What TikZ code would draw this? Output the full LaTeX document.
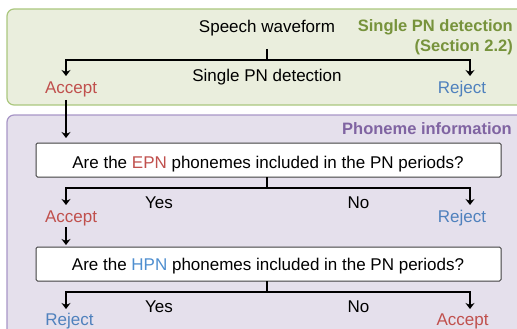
\documentclass[tikz,border=0pt]{standalone}
\usepackage{fontspec}
\setmainfont{Liberation Sans}
\usetikzlibrary{arrows.meta}
\definecolor{accred}{HTML}{C0504D}
\definecolor{rejblue}{HTML}{4F81BD}
\definecolor{hpnblue}{HTML}{4F8FD0}
\definecolor{grfill}{HTML}{EAEEDD}
\definecolor{grline}{HTML}{ABC77E}
\definecolor{grtext}{HTML}{77933C}
\definecolor{pufill}{HTML}{E5E0EC}
\definecolor{puline}{HTML}{A795C6}
\definecolor{putext}{HTML}{8064A2}
\tikzset{
  txt/.style={inner sep=0pt, anchor=base, font=\fontsize{17}{20}\selectfont},
  panel/.style={rounded corners=7pt, line width=1.2pt},
  qbox/.style={draw=black!75, fill=white, line width=1pt, rounded corners=1.5pt},
  link/.style={line width=1.8pt},
  arr/.style={link, -{Stealth[length=6pt,width=9pt,inset=2pt]}},
  ptitle/.style={inner sep=0pt, anchor=base east, font=\fontsize{16.5}{19}\selectfont\bfseries}
}
\begin{document}
\begin{tikzpicture}[x=1pt,y=-1pt]
\useasboundingbox (0,0) rectangle (517,329);
\clip (0,0) rectangle (517,329);
% panels
\draw[panel, fill=grfill, draw=grline] (7,9) rectangle (540,105);
\draw[panel, fill=pufill, draw=puline] (7,115) rectangle (540,360);
\node[ptitle, text=grtext] (gt1) at (513,32) {Single PN detection};
\node[ptitle, text=grtext] (gt2) at (513,52) {(Section 2.2)};
\node[ptitle, text=putext] (pt) at (512,135) {Phoneme information};
% question boxes
\draw[qbox] (36,143) rectangle (501,177);
\draw[qbox] (36,247) rectangle (501,281);
\coordinate (b1b) at (267,177);
\coordinate (b1t) at (66,138);
\coordinate (b2b) at (267,281);
\coordinate (b2t) at (66,245);
\node[txt] (q1) at (268,168) {Are the \textcolor{accred}{EPN} phonemes included in the PN periods?};
\node[txt] (q2) at (268,270) {Are the \textcolor{hpnblue}{HPN} phonemes included in the PN periods?};
% stage 1
\node[txt] (sw) at (267,33) {Speech waveform};
\coordinate (swb) at (267,49);
\coordinate (s1) at (267,60);
\coordinate (a1) at (66,76);
\coordinate (r1) at (470,76);
\node[txt] (spd) at (267,81.5) {Single PN detection};
\node[txt, text=accred] (acc1) at (71,94) {Accept};
\node[txt, text=rejblue] (rej1) at (462,94) {Reject};
\coordinate (acc1b) at (66,100);
\draw[link] (swb) -- (s1);
\draw[arr] (s1) -| (a1);
\draw[arr] (s1) -| (r1);
\draw[arr] (acc1b) -- (b1t);
% stage 2
\coordinate (s2) at (267,188);
\coordinate (a2) at (66,205);
\coordinate (r2) at (470,205);
\node[txt] (yes1) at (159,208) {Yes};
\node[txt] (no1) at (358.5,208) {No};
\node[txt, text=accred] (acc2) at (71,222) {Accept};
\node[txt, text=rejblue] (rej2) at (462,222) {Reject};
\coordinate (acc2b) at (66,227);
\draw[link] (b1b) -- (s2);
\draw[arr] (s2) -| (a2);
\draw[arr] (s2) -| (r2);
\draw[arr] (acc2b) -- (b2t);
% stage 3
\coordinate (s3) at (267,292);
\coordinate (a3) at (66,309);
\coordinate (r3) at (470,309);
\node[txt] (yes2) at (159,312.5) {Yes};
\node[txt] (no2) at (358.5,312.5) {No};
\node[txt, text=rejblue] (rej3) at (69.5,325) {Reject};
\node[txt, text=accred] (acc3) at (462.5,325) {Accept};
\draw[link] (b2b) -- (s3);
\draw[arr] (s3) -| (a3);
\draw[arr] (s3) -| (r3);
\end{tikzpicture}
\end{document}
